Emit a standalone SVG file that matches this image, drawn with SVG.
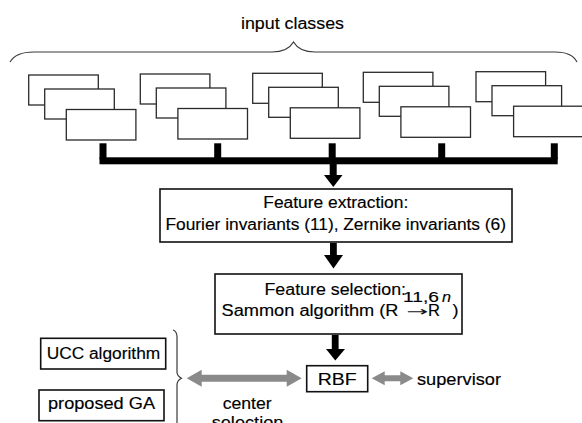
<svg xmlns="http://www.w3.org/2000/svg" width="582" height="423" viewBox="0 0 582 423">
  <style>
    .lbl { font-family: "Liberation Sans", Arial, sans-serif; font-size: 16px; fill: #000; stroke: #000; stroke-width: 0.15; }
    .sup { font-size: 15.5px; }
    .sheet { fill: #fff; stroke: #2a2a2a; stroke-width: 1.3; }
    .box { fill: #fff; stroke: #111; stroke-width: 1.6; }
    .brace { fill: none; stroke: #3a3a3a; stroke-width: 1.2; }
    .bus { fill: #000; }
    .grey { fill: #8a8a8a; }
  </style>
  <defs>
    <!-- a stack of three input sheets -->
    <g id="stack">
      <rect class="sheet" x="0" y="0" width="69.6" height="30"/>
      <rect class="sheet" x="16" y="14" width="69.6" height="30"/>
      <rect class="sheet" x="37.6" y="34.5" width="69.6" height="30.5"/>
    </g>
  </defs>

  <rect width="582" height="423" fill="#fff"/>

  <!-- input classes header with brace -->
  <g id="input-classes">
    <text class="lbl" x="241" y="28.5" textLength="103" lengthAdjust="spacingAndGlyphs">input classes</text>
    <path class="brace" d="M10,62 C14,55 22,52 34,52 L272,52 C283,52 290,48 293.5,42 C297,48 304,52 315,52 L555,52 C567,52 574,56 577,62"/>
  </g>

  <g id="class-1"><use href="#stack" x="28.7" y="75"/></g>
  <g id="class-2"><use href="#stack" x="140.3" y="74"/></g>
  <g id="class-3"><use href="#stack" x="252.7" y="73.3"/></g>
  <g id="class-4"><use href="#stack" x="363.3" y="72.3"/></g>
  <g id="class-5"><use href="#stack" x="476" y="71.7"/></g>

  <g id="feature-extraction">
    <rect class="box" x="160" y="189" width="352" height="53"/>
    <text class="lbl" x="263.3" y="208.3" textLength="145" lengthAdjust="spacingAndGlyphs">Feature extraction:</text>
    <text class="lbl" x="165.5" y="230" textLength="340.5" lengthAdjust="spacingAndGlyphs">Fourier invariants (11), Zernike invariants (6)</text>
  </g>

  <g id="feature-selection">
    <rect class="box" x="215" y="274" width="247" height="60"/>
    <text class="lbl" x="264.5" y="295" textLength="141.5" lengthAdjust="spacingAndGlyphs">Feature selection:</text>
    <text class="lbl" x="221.5" y="316" textLength="177" lengthAdjust="spacingAndGlyphs">Sammon algorithm (R</text>
    <text class="lbl sup" x="403" y="302" textLength="36" lengthAdjust="spacingAndGlyphs">11,6</text>
    <text x="406" y="316" font-family="'DejaVu Sans', sans-serif" font-size="13" fill="#111" textLength="22" lengthAdjust="spacingAndGlyphs">→</text>
    <text class="lbl" x="428" y="316" textLength="12" lengthAdjust="spacingAndGlyphs">R</text>
    <text class="lbl sup" x="442" y="302" font-style="italic" textLength="9" lengthAdjust="spacingAndGlyphs">n</text>
    <text class="lbl" x="452.5" y="316" textLength="6" lengthAdjust="spacingAndGlyphs">)</text>
  </g>

  <g id="ucc-algorithm">
    <rect class="box" x="40.7" y="338.3" width="125" height="30.7"/>
    <text class="lbl" x="46.7" y="359" textLength="113.5" lengthAdjust="spacingAndGlyphs">UCC algorithm</text>
  </g>

  <g id="proposed-ga">
    <rect class="box" x="39" y="390" width="125" height="30.7"/>
    <text class="lbl" x="48" y="408.5" textLength="107" lengthAdjust="spacingAndGlyphs">proposed GA</text>
  </g>

  <g id="rbf">
    <rect class="box" x="306.7" y="365.7" width="61" height="26"/>
    <text class="lbl" x="317.7" y="385" textLength="39" lengthAdjust="spacingAndGlyphs">RBF</text>
  </g>

  <g id="supervisor">
    <text class="lbl" x="417" y="385" textLength="84" lengthAdjust="spacingAndGlyphs">supervisor</text>
  </g>

  <g id="connectors">
    <!-- collecting bus from the five classes -->
    <rect class="bus" x="99.5" y="143.3" width="7" height="16"/>
    <rect class="bus" x="214.2" y="143.3" width="7" height="16"/>
    <rect class="bus" x="328.7" y="143.3" width="7" height="16"/>
    <rect class="bus" x="438.2" y="143.3" width="7" height="16"/>
    <rect class="bus" x="550.8" y="143.3" width="7" height="16"/>
    <rect class="bus" x="99.5" y="157.3" width="458.2" height="7"/>
    <!-- bus to feature extraction -->
    <rect class="bus" x="329.7" y="163" width="7" height="13"/>
    <polygon class="bus" points="324,175 342.5,175 333.3,187"/>
    <!-- extraction to selection -->
    <rect class="bus" x="330" y="243" width="6.8" height="13"/>
    <polygon class="bus" points="324,255 343,255 333.5,268.5"/>
    <!-- selection to RBF -->
    <rect class="bus" x="331.8" y="335" width="6.8" height="15"/>
    <polygon class="bus" points="326,349 345,349 335.3,360.5"/>

    <!-- brace grouping the two center-selection methods -->
    <path class="brace" d="M173,330 C176,331 177,333 177,337 L177,372 C177,375 179,377 181.5,378.3 C179,379.5 177,381 177,385 L177,430"/>
    <!-- center selection link -->
    <path class="grey" d="M186.7,378.3 L201.7,369.8 L201.7,374.8 L286.7,374.8 L286.7,369.8 L301.7,378.3 L286.7,386.8 L286.7,381.8 L201.7,381.8 L201.7,386.8 Z"/>
    <text class="lbl" x="222.7" y="408.5" textLength="49" lengthAdjust="spacingAndGlyphs">center</text>
    <text class="lbl" x="211.7" y="427.5" textLength="71.7" lengthAdjust="spacingAndGlyphs">selection</text>
    <!-- supervisor link -->
    <path class="grey" d="M371.7,378.3 L384.7,371.3 L384.7,375.3 L400.3,375.3 L400.3,371.3 L413.3,378.3 L400.3,385.3 L400.3,381.3 L384.7,381.3 L384.7,385.3 Z"/>
  </g>
</svg>
